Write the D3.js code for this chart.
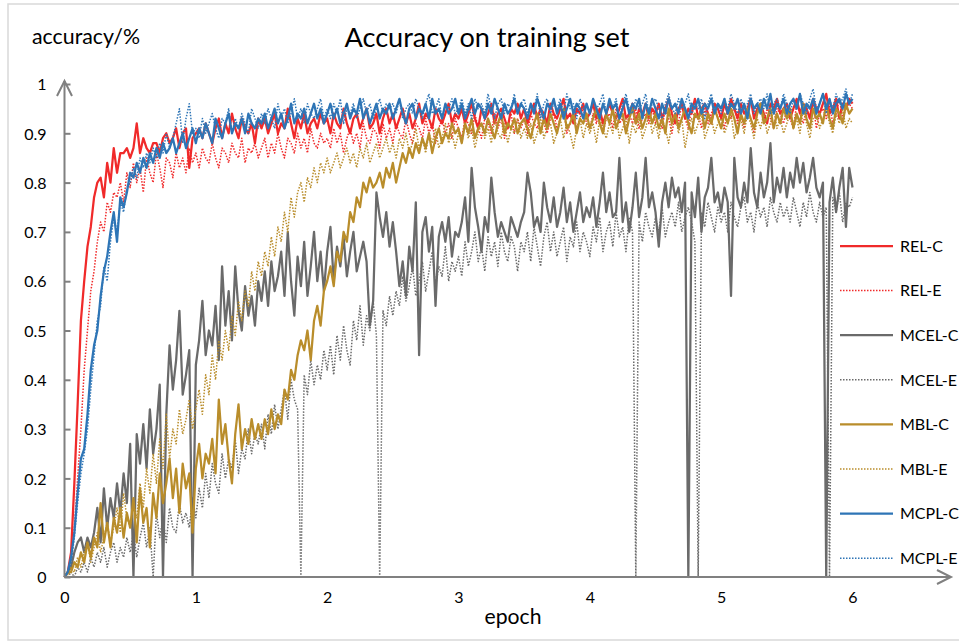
<!DOCTYPE html>
<html>
<head>
<meta charset="utf-8">
<script src="https://cdn.jsdelivr.net/npm/d3@7"></script>
<style>
  body { margin: 0; background: #fff; }
  text { font-family: Lato, "Open Sans", sans-serif; fill: #000; }
</style>
</head>
<body>
<svg id="chart" width="959" height="643"></svg>
<script>
// values, one point every 0.025 epoch (0 .. 6)
const epochStep = 0.025
const xTicks = [0, 1, 2, 3, 4, 5, 6]
const yTicks = [0, 0.1, 0.2, 0.3, 0.4, 0.5, 0.6, 0.7, 0.8, 0.9, 1]
const seriesNames = ['REL-C', 'REL-E', 'MCEL-C', 'MCEL-E', 'MBL-C', 'MBL-E', 'MCPL-C', 'MCPL-E']

const relC = [
  0, 0.01, 0.05, 0.19, 0.35, 0.52, 0.60, 0.67, 0.71, 0.77, 0.80, 0.81, 0.77, 0.84, 0.80, 0.87, 0.82, 0.86, 0.86, 0.87,
  0.85, 0.87, 0.92, 0.86, 0.89, 0.87, 0.86, 0.88, 0.88, 0.86, 0.89, 0.90, 0.88, 0.89, 0.91, 0.87, 0.90, 0.91, 0.83, 0.89,
  0.90, 0.91, 0.89, 0.92, 0.90, 0.88, 0.91, 0.93, 0.89, 0.92, 0.90, 0.94, 0.91, 0.89, 0.93, 0.91, 0.90, 0.92, 0.88, 0.93,
  0.91, 0.93, 0.90, 0.92, 0.94, 0.90, 0.92, 0.91, 0.95, 0.92, 0.89, 0.93, 0.91, 0.94, 0.90, 0.92, 0.93, 0.91, 0.94, 0.92,
  0.93, 0.90, 0.94, 0.92, 0.91, 0.95, 0.92, 0.90, 0.93, 0.94, 0.91, 0.93, 0.95, 0.91, 0.92, 0.94, 0.90, 0.93, 0.95, 0.92,
  0.94, 0.91, 0.93, 0.95, 0.92, 0.94, 0.91, 0.93, 0.96, 0.92, 0.94, 0.93, 0.91, 0.95, 0.93, 0.92, 0.94, 0.96, 0.92, 0.94,
  0.93, 0.95, 0.92, 0.94, 0.96, 0.93, 0.91, 0.95, 0.93, 0.94, 0.96, 0.92, 0.94, 0.95, 0.93, 0.91, 0.95, 0.94, 0.96, 0.93,
  0.95, 0.92, 0.94, 0.96, 0.93, 0.95, 0.94, 0.92, 0.96, 0.94, 0.93, 0.95, 0.97, 0.93, 0.94, 0.92, 0.95, 0.94, 0.96, 0.93,
  0.94, 0.96, 0.93, 0.95, 0.92, 0.94, 0.96, 0.94, 0.93, 0.95, 0.97, 0.93, 0.94, 0.96, 0.92, 0.95, 0.94, 0.96, 0.93, 0.95,
  0.94, 0.96, 0.93, 0.95, 0.97, 0.94, 0.92, 0.95, 0.96, 0.93, 0.95, 0.94, 0.97, 0.93, 0.95, 0.96, 0.94, 0.92, 0.96, 0.95,
  0.93, 0.96, 0.94, 0.97, 0.95, 0.93, 0.96, 0.94, 0.95, 0.97, 0.93, 0.95, 0.96, 0.94, 0.92, 0.96, 0.95, 0.97, 0.94, 0.95,
  0.96, 0.93, 0.95, 0.97, 0.94, 0.96, 0.95, 0.93, 0.97, 0.95, 0.94, 0.96, 0.98, 0.94, 0.95, 0.97, 0.93, 0.96, 0.95, 0.97,
  0.96
]

const relE = [
  0, 0.01, 0.03, 0.10, 0.20, 0.30, 0.42, 0.50, 0.58, 0.62, 0.68, 0.72, 0.70, 0.76, 0.74, 0.78, 0.77, 0.80, 0.76, 0.82,
  0.79, 0.84, 0.80, 0.83, 0.78, 0.85, 0.82, 0.80, 0.86, 0.83, 0.79, 0.85, 0.84, 0.81, 0.86, 0.83, 0.85, 0.82, 0.87, 0.84,
  0.86, 0.83, 0.87, 0.85, 0.84, 0.88, 0.85, 0.83, 0.87, 0.86, 0.84, 0.88, 0.86, 0.85, 0.89, 0.84, 0.87, 0.86, 0.88, 0.85,
  0.87, 0.89, 0.85, 0.88, 0.86, 0.90, 0.87, 0.85, 0.89, 0.88, 0.86, 0.90, 0.87, 0.89, 0.86, 0.91, 0.88, 0.87, 0.90, 0.88,
  0.89, 0.87, 0.91, 0.88, 0.90, 0.86, 0.89, 0.91, 0.88, 0.90, 0.87, 0.92, 0.89, 0.88, 0.91, 0.90, 0.87, 0.92, 0.89, 0.91,
  0.88, 0.92, 0.90, 0.89, 0.93, 0.90, 0.88, 0.92, 0.91, 0.89, 0.93, 0.90, 0.92, 0.88, 0.91, 0.93, 0.90, 0.92, 0.89, 0.93,
  0.91, 0.89, 0.93, 0.92, 0.90, 0.94, 0.91, 0.89, 0.93, 0.92, 0.90, 0.94, 0.91, 0.93, 0.89, 0.92, 0.94, 0.90, 0.93, 0.91,
  0.93, 0.90, 0.94, 0.92, 0.91, 0.95, 0.92, 0.90, 0.93, 0.94, 0.91, 0.93, 0.95, 0.90, 0.92, 0.94, 0.91, 0.93, 0.95, 0.92,
  0.91, 0.94, 0.92, 0.95, 0.90, 0.93, 0.94, 0.91, 0.95, 0.92, 0.93, 0.90, 0.94, 0.92, 0.95, 0.91, 0.93, 0.94, 0.92, 0.95,
  0.92, 0.94, 0.91, 0.95, 0.93, 0.90, 0.94, 0.92, 0.96, 0.93, 0.91, 0.95, 0.93, 0.94, 0.91, 0.95, 0.92, 0.94, 0.96, 0.93,
  0.94, 0.91, 0.95, 0.93, 0.96, 0.92, 0.94, 0.91, 0.95, 0.93, 0.90, 0.94, 0.96, 0.92, 0.95, 0.93, 0.91, 0.95, 0.94, 0.92,
  0.95, 0.93, 0.91, 0.96, 0.94, 0.92, 0.95, 0.93, 0.96, 0.91, 0.94, 0.95, 0.93, 0.96, 0.92, 0.94, 0.97, 0.93, 0.95, 0.96,
  0.95
]

const mcelC = [
  0, 0.01, 0.02, 0.05, 0.07, 0.08, 0.05, 0.08, 0.06, 0.09, 0.14, 0.07, 0.18, 0.10, 0.16, 0.12, 0.19, 0.13, 0.21, 0.15,
  0.27, 0.00, 0.29, 0.23, 0.31, 0.22, 0.34, 0.25, 0.30, 0.39, 0.00, 0.33, 0.47, 0.38, 0.44, 0.54, 0.37, 0.41, 0.46, 0.00,
  0.43, 0.48, 0.56, 0.45, 0.50, 0.47, 0.55, 0.44, 0.63, 0.51, 0.58, 0.48, 0.63, 0.54, 0.50, 0.59, 0.53, 0.57, 0.51, 0.60,
  0.56, 0.62, 0.55, 0.64, 0.58, 0.61, 0.66, 0.57, 0.70, 0.60, 0.53, 0.65, 0.59, 0.68, 0.57, 0.63, 0.70, 0.60, 0.66, 0.58,
  0.66, 0.71, 0.60, 0.67, 0.63, 0.69, 0.61, 0.66, 0.70, 0.62, 0.65, 0.68, 0.64, 0.51, 0.56, 0.78, 0.73, 0.69, 0.74, 0.67,
  0.72, 0.66, 0.59, 0.64, 0.57, 0.67, 0.62, 0.76, 0.45, 0.70, 0.73, 0.66, 0.71, 0.55, 0.69, 0.72, 0.68, 0.73, 0.65, 0.70,
  0.69, 0.72, 0.77, 0.68, 0.83, 0.75, 0.71, 0.66, 0.73, 0.70, 0.81, 0.74, 0.69, 0.72, 0.70, 0.68, 0.73, 0.71, 0.69, 0.72,
  0.74, 0.82, 0.78, 0.71, 0.73, 0.70, 0.80, 0.75, 0.72, 0.77, 0.71, 0.74, 0.79, 0.72, 0.76, 0.70, 0.74, 0.78, 0.72, 0.75,
  0.73, 0.77, 0.71, 0.76, 0.82, 0.74, 0.78, 0.73, 0.74, 0.85, 0.72, 0.76, 0.70, 0.75, 0.82, 0.73, 0.77, 0.85, 0.75, 0.78,
  0.74, 0.67, 0.76, 0.80, 0.75, 0.81, 0.77, 0.79, 0.74, 0.80, 0.00, 0.78, 0.73, 0.81, 0.70, 0.77, 0.79, 0.85, 0.76, 0.78,
  0.74, 0.79, 0.76, 0.57, 0.85, 0.77, 0.75, 0.80, 0.76, 0.87, 0.78, 0.75, 0.82, 0.77, 0.80, 0.88, 0.76, 0.81, 0.78, 0.83,
  0.77, 0.82, 0.79, 0.85, 0.80, 0.84, 0.78, 0.81, 0.85, 0.79, 0.77, 0.80, 0.00, 0.76, 0.81, 0.74, 0.79, 0.83, 0.71, 0.83,
  0.79
]

const mcelE = [
  0, 0.00, 0.01, 0.00, 0.02, 0.01, 0.03, 0.01, 0.04, 0.02, 0.05, 0.03, 0.06, 0.02, 0.05, 0.07, 0.03, 0.06, 0.04, 0.08,
  0.05, 0.09, 0.04, 0.08, 0.11, 0.06, 0.10, 0.00, 0.13, 0.08, 0.12, 0.07, 0.14, 0.10, 0.09, 0.15, 0.11, 0.13, 0.10, 0.16,
  0.12, 0.18, 0.14, 0.21, 0.16, 0.23, 0.19, 0.17, 0.25, 0.20, 0.24, 0.22, 0.28, 0.21, 0.26, 0.24, 0.30, 0.25, 0.29, 0.27,
  0.31, 0.26, 0.33, 0.29, 0.35, 0.30, 0.34, 0.38, 0.32, 0.40, 0.36, 0.34, 0.00, 0.41, 0.37, 0.44, 0.39, 0.43, 0.40, 0.46,
  0.42, 0.47, 0.41, 0.49, 0.44, 0.51, 0.46, 0.43, 0.52, 0.48, 0.55, 0.47, 0.53, 0.50, 0.56, 0.49, 0.00, 0.54, 0.51, 0.57,
  0.53, 0.58, 0.55, 0.61, 0.56, 0.59, 0.63, 0.57, 0.60, 0.64, 0.58, 0.62, 0.66, 0.59, 0.63, 0.61, 0.67, 0.60, 0.64, 0.62,
  0.65, 0.61, 0.68, 0.63, 0.66, 0.70, 0.64, 0.67, 0.62, 0.69, 0.65, 0.68, 0.63, 0.70, 0.66, 0.64, 0.69, 0.67, 0.62, 0.68,
  0.66, 0.70, 0.64, 0.71, 0.67, 0.63, 0.69, 0.72, 0.66, 0.70, 0.65, 0.68, 0.71, 0.64, 0.69, 0.67, 0.72, 0.66, 0.70, 0.68,
  0.65, 0.71, 0.68, 0.73, 0.66, 0.70, 0.72, 0.67, 0.74, 0.69, 0.71, 0.66, 0.73, 0.70, 0.00, 0.72, 0.68, 0.74, 0.71, 0.69,
  0.73, 0.70, 0.75, 0.69, 0.72, 0.74, 0.71, 0.76, 0.70, 0.73, 0.75, 0.72, 0.68, 0.00, 0.74, 0.71, 0.76, 0.73, 0.70, 0.75,
  0.72, 0.74, 0.70, 0.76, 0.73, 0.71, 0.75, 0.77, 0.72, 0.74, 0.70, 0.76, 0.73, 0.75, 0.71, 0.77, 0.74, 0.72, 0.76, 0.73,
  0.75, 0.72, 0.77, 0.74, 0.71, 0.76, 0.73, 0.78, 0.74, 0.72, 0.76, 0.73, 0.75, 0.00, 0.77, 0.74, 0.78, 0.72, 0.76, 0.75,
  0.77
]

const mblC = [
  0, 0.01, 0.01, 0.03, 0.02, 0.05, 0.03, 0.07, 0.04, 0.08, 0.06, 0.15, 0.07, 0.11, 0.06, 0.12, 0.09, 0.14, 0.08, 0.13,
  0.10, 0.16, 0.07, 0.18, 0.11, 0.14, 0.06, 0.17, 0.12, 0.21, 0.15, 0.19, 0.24, 0.16, 0.22, 0.13, 0.23, 0.18, 0.21, 0.09,
  0.22, 0.27, 0.20, 0.25, 0.23, 0.28, 0.21, 0.36, 0.27, 0.31, 0.24, 0.19, 0.29, 0.35, 0.26, 0.30, 0.27, 0.32, 0.28, 0.31,
  0.28, 0.32, 0.29, 0.34, 0.30, 0.33, 0.31, 0.38, 0.36, 0.42, 0.40, 0.45, 0.48, 0.46, 0.50, 0.44, 0.52, 0.55, 0.51, 0.58,
  0.60, 0.63, 0.59, 0.66, 0.64, 0.70, 0.68, 0.74, 0.72, 0.77, 0.75, 0.80, 0.78, 0.81, 0.79, 0.80, 0.82, 0.79, 0.83, 0.81,
  0.84, 0.80, 0.83, 0.86, 0.84, 0.87, 0.85, 0.88, 0.86, 0.89, 0.87, 0.90, 0.86, 0.89, 0.91, 0.88, 0.90, 0.89, 0.92, 0.90,
  0.91, 0.88, 0.92, 0.90, 0.93, 0.89, 0.91, 0.92, 0.90, 0.93, 0.91, 0.89, 0.92, 0.94, 0.90, 0.92, 0.91, 0.93, 0.90, 0.92,
  0.93, 0.91, 0.89, 0.92, 0.94, 0.90, 0.93, 0.91, 0.94, 0.92, 0.90, 0.93, 0.95, 0.91, 0.92, 0.94, 0.90, 0.93, 0.92, 0.94,
  0.91, 0.93, 0.95, 0.92, 0.90, 0.94, 0.92, 0.95, 0.91, 0.93, 0.94, 0.90, 0.93, 0.95, 0.92, 0.94, 0.91, 0.93, 0.95, 0.92,
  0.94, 0.91, 0.93, 0.90, 0.95, 0.92, 0.94, 0.91, 0.93, 0.95, 0.92, 0.90, 0.94, 0.93, 0.95, 0.91, 0.94, 0.92, 0.95, 0.93,
  0.91, 0.94, 0.92, 0.95, 0.93, 0.90, 0.94, 0.92, 0.95, 0.93, 0.91, 0.94, 0.96, 0.92, 0.93, 0.95, 0.91, 0.94, 0.92, 0.95,
  0.93, 0.95, 0.91, 0.94, 0.92, 0.96, 0.93, 0.91, 0.95, 0.93, 0.94, 0.92, 0.96, 0.93, 0.91, 0.95, 0.94, 0.92, 0.96, 0.94,
  0.95
]

const mblE = [
  0, 0.00, 0.02, 0.01, 0.04, 0.02, 0.05, 0.07, 0.03, 0.06, 0.09, 0.05, 0.08, 0.11, 0.07, 0.10, 0.14, 0.09, 0.17, 0.12,
  0.10, 0.15, 0.12, 0.19, 0.14, 0.22, 0.17, 0.25, 0.19, 0.28, 0.22, 0.33, 0.24, 0.30, 0.27, 0.34, 0.29, 0.32, 0.36, 0.30,
  0.34, 0.38, 0.33, 0.41, 0.37, 0.45, 0.40, 0.48, 0.44, 0.50, 0.46, 0.53, 0.49, 0.56, 0.52, 0.58, 0.55, 0.62, 0.58, 0.64,
  0.61, 0.66, 0.63, 0.69, 0.65, 0.71, 0.68, 0.74, 0.70, 0.77, 0.73, 0.78, 0.80, 0.76, 0.81, 0.79, 0.83, 0.80, 0.84, 0.82,
  0.85, 0.82, 0.84, 0.86, 0.83, 0.85, 0.87, 0.84, 0.86, 0.83, 0.87, 0.85, 0.88, 0.84, 0.86, 0.88, 0.85, 0.87, 0.89, 0.86,
  0.88, 0.85, 0.89, 0.87, 0.90, 0.86, 0.88, 0.91, 0.87, 0.89, 0.86, 0.90, 0.88, 0.91, 0.87, 0.89, 0.92, 0.88, 0.90, 0.87,
  0.90, 0.88, 0.92, 0.89, 0.91, 0.87, 0.90, 0.92, 0.89, 0.91, 0.88, 0.93, 0.90, 0.89, 0.92, 0.88, 0.91, 0.90, 0.93, 0.89,
  0.91, 0.89, 0.92, 0.88, 0.90, 0.93, 0.89, 0.91, 0.92, 0.88, 0.90, 0.93, 0.89, 0.92, 0.90, 0.87, 0.91, 0.93, 0.89, 0.92,
  0.90, 0.92, 0.88, 0.93, 0.91, 0.89, 0.92, 0.90, 0.94, 0.89, 0.91, 0.93, 0.88, 0.92, 0.90, 0.93, 0.89, 0.91, 0.94, 0.90,
  0.92, 0.89, 0.93, 0.91, 0.88, 0.92, 0.94, 0.90, 0.93, 0.87, 0.91, 0.93, 0.90, 0.92, 0.94, 0.89, 0.91, 0.93, 0.90, 0.92,
  0.93, 0.90, 0.92, 0.94, 0.89, 0.91, 0.93, 0.90, 0.94, 0.92, 0.89, 0.93, 0.91, 0.94, 0.90, 0.92, 0.95, 0.91, 0.93, 0.90,
  0.92, 0.94, 0.91, 0.93, 0.90, 0.95, 0.92, 0.89, 0.93, 0.94, 0.91, 0.93, 0.95, 0.92, 0.90, 0.94, 0.92, 0.95, 0.91, 0.93,
  0.92
]

const mcplC = [
  0, 0.01, 0.04, 0.09, 0.17, 0.24, 0.26, 0.33, 0.42, 0.47, 0.50, 0.57, 0.62, 0.65, 0.70, 0.74, 0.68, 0.77, 0.75, 0.78,
  0.82, 0.81, 0.84, 0.82, 0.85, 0.83, 0.86, 0.84, 0.87, 0.85, 0.88, 0.86, 0.87, 0.89, 0.86, 0.88, 0.90, 0.87, 0.89, 0.91,
  0.88, 0.91, 0.89, 0.92, 0.90, 0.88, 0.93, 0.91, 0.89, 0.92, 0.94, 0.90, 0.92, 0.91, 0.93, 0.90, 0.94, 0.92, 0.91, 0.93,
  0.92, 0.94, 0.91, 0.93, 0.95, 0.92, 0.94, 0.91, 0.93, 0.96, 0.92, 0.94, 0.93, 0.95, 0.92, 0.94, 0.96, 0.93, 0.95, 0.92,
  0.94, 0.96, 0.93, 0.95, 0.92, 0.94, 0.96, 0.93, 0.95, 0.94, 0.97, 0.93, 0.95, 0.92, 0.94, 0.96, 0.93, 0.95, 0.94, 0.96,
  0.93, 0.95, 0.97, 0.94, 0.92, 0.95, 0.96, 0.93, 0.95, 0.94, 0.96, 0.93, 0.97, 0.94, 0.95, 0.93, 0.96, 0.94, 0.95, 0.97,
  0.94, 0.96, 0.93, 0.95, 0.97, 0.94, 0.96, 0.95, 0.93, 0.96, 0.94, 0.97, 0.95, 0.93, 0.96, 0.94, 0.95, 0.97, 0.94, 0.96,
  0.95, 0.93, 0.96, 0.94, 0.97, 0.95, 0.93, 0.96, 0.95, 0.97, 0.94, 0.96, 0.93, 0.95, 0.97, 0.94, 0.96, 0.95, 0.93, 0.96,
  0.94, 0.97, 0.95, 0.93, 0.96, 0.94, 0.97, 0.95, 0.96, 0.93, 0.95, 0.97, 0.94, 0.96, 0.95, 0.97, 0.93, 0.96, 0.94, 0.97,
  0.95, 0.93, 0.96, 0.94, 0.97, 0.95, 0.96, 0.94, 0.97, 0.95, 0.93, 0.96, 0.95, 0.97, 0.94, 0.96, 0.95, 0.97, 0.94, 0.96,
  0.95, 0.97, 0.94, 0.96, 0.95, 0.97, 0.94, 0.96, 0.93, 0.97, 0.95, 0.96, 0.94, 0.97, 0.95, 0.98, 0.94, 0.96, 0.95, 0.97,
  0.94, 0.96, 0.97, 0.95, 0.98, 0.94, 0.96, 0.95, 0.97, 0.94, 0.96, 0.98, 0.95, 0.97, 0.94, 0.96, 0.97, 0.95, 0.98, 0.96,
  0.97
]

const mcplE = [
  0, 0.01, 0.03, 0.08, 0.15, 0.21, 0.25, 0.30, 0.38, 0.45, 0.52, 0.55, 0.63, 0.60, 0.68, 0.73, 0.70, 0.76, 0.74, 0.79,
  0.80, 0.83, 0.81, 0.85, 0.83, 0.86, 0.84, 0.87, 0.85, 0.88, 0.86, 0.90, 0.87, 0.89, 0.92, 0.95, 0.88, 0.93, 0.96, 0.90,
  0.91, 0.89, 0.93, 0.90, 0.92, 0.94, 0.91, 0.89, 0.93, 0.92, 0.95, 0.90, 0.93, 0.91, 0.94, 0.92, 0.90, 0.95, 0.93, 0.91,
  0.94, 0.92, 0.95, 0.93, 0.91, 0.96, 0.93, 0.95, 0.92, 0.94, 0.97, 0.93, 0.95, 0.92, 0.96, 0.94, 0.93, 0.95, 0.97, 0.93,
  0.95, 0.93, 0.96, 0.94, 0.97, 0.92, 0.95, 0.94, 0.96, 0.93, 0.95, 0.97, 0.94, 0.96, 0.93, 0.95, 0.97, 0.94, 0.96, 0.95,
  0.96, 0.94, 0.97, 0.93, 0.95, 0.96, 0.94, 0.97, 0.95, 0.93, 0.96, 0.98, 0.94, 0.95, 0.97, 0.93, 0.96, 0.95, 0.97, 0.94,
  0.95, 0.97, 0.94, 0.96, 0.93, 0.97, 0.95, 0.96, 0.94, 0.98, 0.95, 0.93, 0.96, 0.97, 0.94, 0.96, 0.95, 0.98, 0.94, 0.96,
  0.97, 0.94, 0.96, 0.95, 0.98, 0.93, 0.96, 0.97, 0.94, 0.96, 0.95, 0.97, 0.94, 0.98, 0.95, 0.96, 0.93, 0.97, 0.95, 0.96,
  0.94, 0.97, 0.95, 0.96, 0.98, 0.94, 0.96, 0.95, 0.97, 0.93, 0.96, 0.98, 0.95, 0.94, 0.97, 0.95, 0.96, 0.98, 0.94, 0.96,
  0.97, 0.95, 0.93, 0.96, 0.98, 0.95, 0.94, 0.97, 0.95, 0.96, 0.98, 0.94, 0.96, 0.95, 0.97, 0.93, 0.96, 0.98, 0.95, 0.96,
  0.94, 0.97, 0.95, 0.98, 0.96, 0.94, 0.97, 0.95, 0.96, 0.98, 0.94, 0.96, 0.97, 0.95, 0.98, 0.94, 0.96, 0.97, 0.95, 0.98,
  0.96, 0.94, 0.97, 0.95, 0.98, 0.96, 0.94, 0.97, 0.99, 0.95, 0.96, 0.98, 0.94, 0.97, 0.95, 0.98, 0.96, 0.97, 0.99, 0.96,
  0.98
]

const seriesValues = [relC, relE, mcelC, mcelE, mblC, mblE, mcplC, mcplE]
const seriesColors = ['#f02a2a', '#f02a2a', '#6a6a6a', '#6a6a6a', '#b98d2b', '#b98d2b', '#2e75b6', '#2e75b6']
const seriesDashed = [false, true, false, true, false, true, false, true]

const svg = d3.select('#chart')
const axisColor = '#808080'

// outer frame (right edge sits past the window)
svg.append('rect')
  .attr('x', 8).attr('y', 4)
  .attr('width', 970).attr('height', 636)
  .style('fill', 'none')
  .style('stroke', '#d9d9d9')
  .style('stroke-width', 1.5)

const x = d3.scaleLinear().domain([0, 6]).range([64.5, 852.5])
const y = d3.scaleLinear().domain([0, 1]).range([577, 84])

function fitText(t, w) {
  const len = t.node().getComputedTextLength()
  const fs = parseFloat(t.attr('font-size'))
  t.attr('font-size', (fs * w / len).toFixed(2))
}

// lines
const line = d3.line()
  .x((d, i) => x(i * epochStep))
  .y(d => y(d))

const plot = svg.append('g')
seriesValues.forEach((vals, k) => {
  plot.append('path')
    .datum(vals)
    .attr('d', line)
    .style('fill', 'none')
    .style('stroke', seriesColors[k])
    .style('stroke-width', seriesDashed[k] ? 1.5 : 2.25)
    .style('stroke-dasharray', seriesDashed[k] ? '1.5,1.5' : null)
    .style('stroke-linejoin', 'round')
})

// y axis
const yAxis = svg.append('g')
  .attr('transform', 'translate(' + x(0) + ',0)')
  .call(d3.axisLeft(y).tickValues(yTicks).tickSize(-6).tickPadding(18)
    .tickFormat(d => d3.format('.1~f')(d)))
yAxis.select('.domain').remove()
yAxis.selectAll('line').style('stroke', axisColor).style('stroke-width', 2)
yAxis.selectAll('text')
  .attr('font-size', 16)
  .style('font-family', 'Lato, sans-serif')
  .attr('dy', '0.36em')

// x axis
const xAxis = svg.append('g')
  .attr('transform', 'translate(0,' + y(0) + ')')
  .call(d3.axisBottom(x).tickValues(xTicks).tickSize(0).tickPadding(15)
    .tickFormat(d3.format('d')))
xAxis.select('.domain').remove()
xAxis.selectAll('text')
  .attr('font-size', 16)
  .style('font-family', 'Lato, sans-serif')

// axis lines with open arrow heads
svg.append('path')
  .attr('d', d3.line()([[x(0), y(0)], [x(0), 81]]))
  .style('stroke', axisColor).style('stroke-width', 2).style('fill', 'none')
svg.append('path')
  .attr('d', d3.line()([[x(0) - 7.5, 96], [x(0), 81], [x(0) + 7.5, 96]]))
  .style('stroke', axisColor).style('stroke-width', 2).style('fill', 'none')
svg.append('path')
  .attr('d', d3.line()([[x(0), y(0)], [951, y(0)]]))
  .style('stroke', axisColor).style('stroke-width', 2).style('fill', 'none')
svg.append('path')
  .attr('d', d3.line()([[937, y(0) - 7], [951, y(0)], [937, y(0) + 7]]))
  .style('stroke', axisColor).style('stroke-width', 2).style('fill', 'none')

// titles
const title = svg.append('text')
  .attr('x', 487).attr('y', 47)
  .attr('text-anchor', 'middle')
  .attr('font-size', 24)
  .text('Accuracy on training set')
fitText(title, 285)

const yLabel = svg.append('text')
  .attr('x', 32).attr('y', 44)
  .attr('font-size', 19)
  .text('accuracy/%')
fitText(yLabel, 108)

const xLabel = svg.append('text')
  .attr('x', 513).attr('y', 624)
  .attr('text-anchor', 'middle')
  .attr('font-size', 20)
  .text('epoch')
fitText(xLabel, 57)

// legend
const legend = svg.append('g')
legend.selectAll('line')
  .data(seriesNames)
  .enter()
  .append('line')
  .attr('x1', 840)
  .attr('x2', 893)
  .attr('y1', (d, i) => 246 + i * 44.6)
  .attr('y2', (d, i) => 246 + i * 44.6)
  .style('stroke', (d, i) => seriesColors[i])
  .style('stroke-width', (d, i) => seriesDashed[i] ? 1.5 : 2.25)
  .style('stroke-dasharray', (d, i) => seriesDashed[i] ? '1.5,1.5' : null)

legend.selectAll('text')
  .data(seriesNames)
  .enter()
  .append('text')
  .attr('x', 900)
  .attr('y', (d, i) => 246 + i * 44.6)
  .attr('dy', '0.36em')
  .attr('font-size', 16)
  .text(d => d)
</script>
</body>
</html>
